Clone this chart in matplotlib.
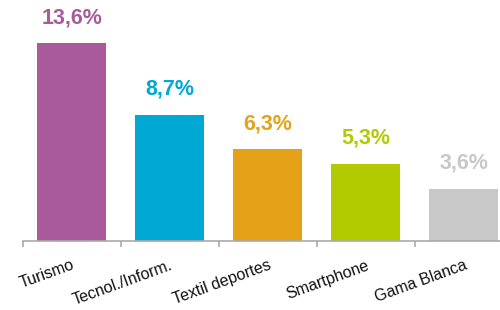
import numpy as np
import matplotlib.pyplot as plt

plt.rcParams['font.family'] = ['Liberation Sans', 'DejaVu Sans']

# data
categories = ["Turismo", "Tecnol./Inform.", "Textil deportes", "Smartphone", "Gama Blanca"]
values = [13.6, 8.7, 6.3, 5.3, 3.6]
labels = ["13,6%", "8,7%", "6,3%", "5,3%", "3,6%"]
colors = ["#a85a9c", "#00a8d4", "#e5a219", "#b1cb00", "#c8c8c8"]

fig = plt.figure(figsize=(5, 3.1), dpi=100)
# axes from x=22.7px to right edge, baseline at y=241px
ax = fig.add_axes([22.7 / 500, (310 - 241) / 310, 1 - 22.7 / 500, 197.7 / 310 * 14.2 / 13.6])

x = np.arange(len(categories))
ax.bar(x, values, width=0.71, color=colors)

for xi, v, lab, c in zip(x, values, labels, colors):
    ax.annotate(lab, (xi, v), xytext=(0, 11), textcoords='offset points',
                ha='center', va='bottom', fontsize=15.5, fontweight='bold', color=c)

ax.set_xlim(-0.5, -0.5 + (500 - 22.7) / 98)
ax.set_ylim(0, 14.2)

for s in ['top', 'right', 'left']:
    ax.spines[s].set_visible(False)
ax.spines['bottom'].set_color('#aaaaaa')
ax.spines['bottom'].set_linewidth(1.2)

ax.set_yticks([])
ax.set_xticks(np.arange(len(categories)) - 0.5)
ax.set_xticklabels([])
ax.tick_params(axis='x', which='major', length=4, width=1.2, color='#aaaaaa', direction='out')
ax.set_xticks(x, minor=True)
ax.set_xticklabels(categories, minor=True, rotation=20, ha='right',
                   rotation_mode='anchor', fontsize=11.5, color='#111111')
ax.tick_params(axis='x', which='minor', length=0, pad=12)

fig.savefig("out.png", dpi=100)
